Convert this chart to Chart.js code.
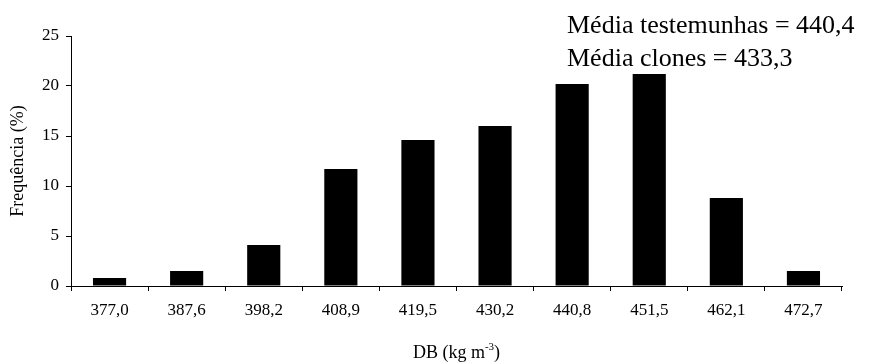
<!DOCTYPE html>
<html>
<head>
<meta charset="utf-8">
<script src="https://cdn.jsdelivr.net/npm/chart.js@4.4.1/dist/chart.umd.min.js"></script>
<style>
  html, body { margin: 0; padding: 0; background: #fff; }
  #wrap { width: 872px; height: 363px; }
</style>
</head>
<body>
<div id="wrap"><canvas id="chart"></canvas></div>
<script>
// classes de densidade básica (kg m-3)
const classes = ['377,0', '387,6', '398,2', '408,9', '419,5', '430,2', '440,8', '451,5', '462,1', '472,7'];
// frequência (%)
const frequencia = [0.8, 1.5, 4.1, 11.7, 14.6, 16.0, 20.2, 21.2, 8.8, 1.5];
const yTicks = [0, 5, 10, 15, 20, 25];
const notas = ['Média testemunhas = 440,4', 'Média clones = 433,3'];

const serif = "'Liberation Serif', 'Times New Roman', serif";

// notas no canto e título do eixo x com expoente
const textoExtra = {
  id: 'textoExtra',
  afterDraw(chart) {
    const ctx = chart.ctx;
    const area = chart.chartArea;
    ctx.save();
    ctx.fillStyle = '#000';
    ctx.textBaseline = 'alphabetic';
    ctx.textAlign = 'left';
    ctx.font = '26px ' + serif;
    ctx.fillText(notas[0], 567, 33);
    ctx.fillText(notas[1], 567, 66);

    // DB (kg m^-3)
    const base = 'DB (kg m';
    const sup = '-3';
    const tail = ')';
    ctx.font = '18px ' + serif;
    const w1 = ctx.measureText(base).width;
    const w3 = ctx.measureText(tail).width;
    ctx.font = '11px ' + serif;
    const w2 = ctx.measureText(sup).width;
    let x = (area.left + area.right) / 2 - (w1 + w2 + w3) / 2;
    const y = 358;
    ctx.font = '18px ' + serif;
    ctx.fillText(base, x, y);
    x += w1;
    ctx.font = '11px ' + serif;
    ctx.fillText(sup, x, y - 8);
    x += w2;
    ctx.font = '18px ' + serif;
    ctx.fillText(tail, x, y);
    ctx.restore();
  }
};

new Chart(document.getElementById('chart'), {
  type: 'bar',
  data: {
    labels: classes,
    datasets: [{
      data: frequencia,
      backgroundColor: '#000',
      borderWidth: 0,
      barPercentage: 0.43,
      categoryPercentage: 1.0
    }]
  },
  options: {
    responsive: true,
    maintainAspectRatio: false,
    animation: false,
    layout: { padding: { left: 0, right: 30, top: 36, bottom: 0 } },
    plugins: {
      legend: { display: false },
      tooltip: { enabled: false }
    },
    scales: {
      x: {
        grid: {
          offset: true,
          drawOnChartArea: false,
          drawTicks: true,
          tickLength: 5,
          color: '#000'
        },
        border: { display: true, color: '#000', width: 1 },
        ticks: {
          color: '#000',
          padding: 9,
          maxRotation: 0,
          font: { family: serif, size: 17 }
        },
        afterFit(scale) { scale.height = 77; }
      },
      y: {
        min: 0,
        max: 25,
        afterBuildTicks(scale) {
          scale.ticks = yTicks.map(v => ({ value: v }));
        },
        grid: {
          drawOnChartArea: false,
          drawTicks: true,
          tickLength: 5,
          color: '#000'
        },
        border: { display: true, color: '#000', width: 1 },
        ticks: {
          color: '#000',
          padding: 7,
          font: { family: serif, size: 17 }
        },
        title: {
          display: true,
          text: 'Frequência (%)',
          color: '#000',
          padding: { top: 7, bottom: 0 },
          font: { family: serif, size: 18 }
        },
        afterFit(scale) { scale.width = 71; }
      }
    }
  },
  plugins: [textoExtra]
});
</script>
</body>
</html>
